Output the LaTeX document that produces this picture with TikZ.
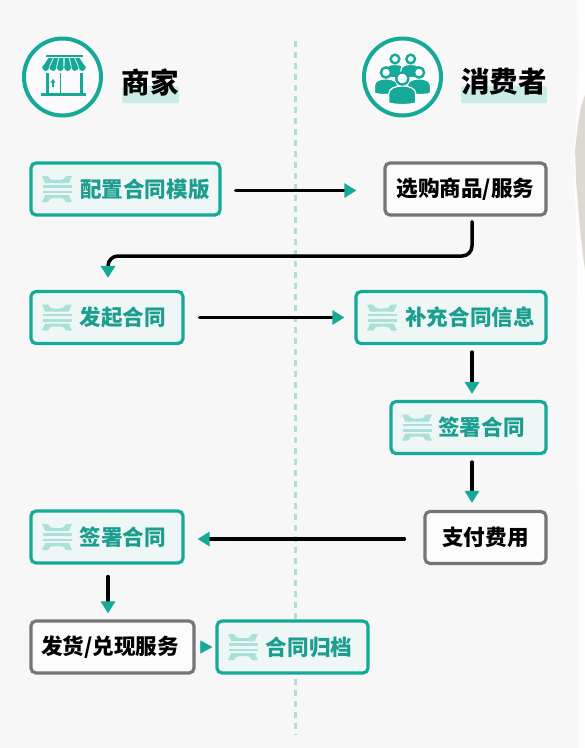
\documentclass[tikz,border=0pt]{standalone}
\usepackage{fontspec}
\setmainfont{Noto Sans CJK SC}
\usetikzlibrary{arrows.meta}
\definecolor{tealc}{HTML}{14A999}
\definecolor{tealtext}{HTML}{1B9E90}
\definecolor{lightt}{HTML}{A9E0D7}
\definecolor{hl}{HTML}{C9ECE6}
\definecolor{boxfill}{HTML}{EEF7F5}
\definecolor{greyb}{HTML}{757575}
\definecolor{paper}{HTML}{F7F7F7}
\definecolor{torn}{HTML}{DCD9D2}
\tikzset{
  x=1pt,y=-1pt,
  flowbox/.style={rounded corners=5pt,line width=3.2pt,minimum height=52pt,inner sep=0pt,font=\fontsize{21.6}{24}\selectfont\bfseries},
  contract/.style={flowbox,draw=tealc,fill=boxfill,text=tealtext},
  plainbox/.style={flowbox,draw=greyb,fill=white!60!paper,text=black,font=\fontsize{21.6}{24}\selectfont\bfseries},
  title/.style={font=\fontsize{28.5}{32}\selectfont\bfseries,text=black,inner sep=0pt},
  ring/.style={circle,draw=tealc,line width=4pt,fill=white!50!paper,minimum size=77pt,inner sep=0pt},
  flow/.style={line width=3.5pt,black,line cap=round,-{Triangle[color=tealc,length=12pt,width=14pt]}},
  tiponly/.style={line width=0.5pt,tealc,-{Triangle[color=tealc,length=12pt,width=13pt]}},
}
% contract mark, centred on the given point
\newcommand{\contractmark}[1]{%
  \begin{scope}[shift={(#1)},lightt]
    \fill (-15,-13) -- (-9,-13) .. controls (-8,-10) and (-6,-9) .. (-3,-9) -- (3,-9) .. controls (6,-9) and (8,-10) .. (9,-13) -- (15,-13) .. controls (13.5,-10) and (12.5,-8) .. (12,-6) -- (-12,-6) .. controls (-12.5,-8) and (-13.5,-10) .. (-15,-13) -- cycle;
    \fill (-15,13) -- (-9,13) .. controls (-8,10) and (-6,9) .. (-3,9) -- (3,9) .. controls (6,9) and (8,10) .. (9,13) -- (15,13) .. controls (13.5,10) and (12.5,8) .. (12,6) -- (-12,6) .. controls (-12.5,8) and (-13.5,10) .. (-15,13) -- cycle;
    \fill (-14.5,-4) rectangle (14.5,-1.5);
    \fill (-14.5,1.5) rectangle (14.5,4);
  \end{scope}}
% one person of the crowd icon
\newcommand{\crowdperson}[3]{%
  \begin{scope}[shift={(#1,#2)},scale=#3]
    \fill[tealc,draw=white,line width=1.2pt] (-13.5,24.5) -- (-13.5,15) .. controls (-13.5,10) and (-7,7.5) .. (0,7.5) .. controls (7,7.5) and (13.5,10) .. (13.5,15) -- (13.5,24.5) .. controls (6,26.5) and (-6,26.5) .. (-13.5,24.5) -- cycle;
    \filldraw[fill=white,draw=tealc,line width=2.4pt] (0,0) circle[radius=6];
  \end{scope}}
\begin{document}
\begin{tikzpicture}
\useasboundingbox (0,0) rectangle (585,748);
\fill[paper] (0,0) rectangle (585,748);
% torn paper edge on the right
\fill[white!70!paper] (577,0) -- (585,0) -- (585,748) -- (579,748) -- (578,400) -- (577,270) -- (574,160) -- (579,60) -- cycle;
\fill[torn] (585,95) -- (581,106) -- (578,125) -- (575,150) -- (576,180) -- (578,205) -- (580,228) -- (583,255) -- (585,270) -- cycle;
% centre line
\draw[lightt,line width=3pt,dash pattern=on 6pt off 5pt] (295,41) -- (295,735);

% headers
\node[ring] (shop) at (62.5,77) {};
\node[ring] (crowd) at (402.5,77) {};
\fill[hl,rounded corners=2pt] (122,86) rectangle (179,103);
\fill[hl,rounded corners=2pt] (461,86) rectangle (547,103);
\node[title] (shoptitle) at (150,82) {商家};
\node[title] (crowdtitle) at (504,82) {消费者};

% shop icon
\begin{scope}[tealc]
  \fill (45.5,54.5) rectangle (82.5,57);
  \foreach \i in {0,...,5}{
    \fill ({48+5.33*\i+0.55},58) -- ({48+5.33*(\i+1)-0.55},58) -- ({42+7.33*(\i+1)-0.5},67) -- ({42+7.33*\i+0.5},67) -- cycle;
    \fill ({42+7.33*\i},66.5) -- ({42+7.33*(\i+1)},66.5) arc[start angle=0,end angle=-180,x radius=3.665,y radius=-4.5] -- cycle;
  }
  \fill (45.5,73) rectangle (48.5,93);
  \fill (79.5,73) rectangle (82.5,93);
  \fill (60.2,73) rectangle (61.4,93);
  \fill (41,92.7) -- (86,92.7) -- (86,96) -- (41,96) -- cycle;
  \fill (53,79) -- (55.4,82.5) -- (53.9,82.5) -- (53.9,87) -- (52.1,87) -- (52.1,82.5) -- (50.6,82.5) -- cycle;
\end{scope}

% crowd icon
\crowdperson{395}{59}{0.72}
\crowdperson{410.7}{59}{0.72}
\crowdperson{386}{72.5}{0.85}
\crowdperson{419}{72.5}{0.85}
\crowdperson{402.3}{78.5}{1}

% boxes
\node[contract,minimum width=189pt] (peizhi) at (125.5,189) {\hspace*{39pt}配置合同模版};
\node[plainbox,minimum width=161pt] (xuangou) at (465.5,189) {选购商品/服务};
\node[contract,minimum width=152pt] (faqi) at (107,317.5) {\hspace*{32pt}发起合同};
\node[contract,minimum width=190pt] (buchong) at (451,317.5) {\hspace*{38pt}补充合同信息};
\node[contract,minimum width=155pt] (qianr) at (468.5,427.5) {\hspace*{26pt}签署合同};
\node[plainbox,minimum width=121pt] (zhifu) at (485.5,537.5) {支付费用};
\node[contract,minimum width=152pt] (qianl) at (107,537) {\hspace*{32pt}签署合同};
\node[plainbox,minimum width=163pt] (fahuo) at (112.5,647) {\hspace*{-5pt}发货/兑现服务};
\node[contract,minimum width=151pt] (guidang) at (292.5,647) {\hspace*{33pt}合同归档};

% contract marks
\contractmark{57,189}
\contractmark{57,317.5}
\contractmark{382,317.5}
\contractmark{417,427.5}
\contractmark{57,537}
\contractmark{243,647}

% connectors
\coordinate (turnright) at (472,256);
\coordinate (turnleft) at (108,256);
\draw[flow,shorten <=14pt,shorten >=27pt] ([yshift=-1.5pt]peizhi.east) -- ([yshift=-1.5pt]xuangou.west);
\draw[flow,rounded corners=10pt,shorten <=5pt,shorten >=12pt] ([xshift=6.5pt]xuangou.south) -- (turnright) -- (turnleft) -- ([xshift=1pt]faqi.north);
\draw[flow,shorten <=15pt,shorten >=10pt] (faqi.east) -- (buchong.west);
\draw[flow,shorten <=7pt,shorten >=6pt] ([xshift=21pt]buchong.south) -- ([xshift=3.5pt]qianr.north);
\draw[flow,shorten <=7pt,shorten >=7pt] ([xshift=3.5pt]qianr.south) -- ([xshift=-13.5pt]zhifu.north);
\draw[flow,shorten <=19pt,shorten >=13pt] ([yshift=-1.5pt]zhifu.west) -- ([yshift=-2pt]qianl.east);
\draw[flow,shorten <=12pt,shorten >=6pt] ([xshift=1pt]qianl.south) -- ([xshift=-4.5pt]fahuo.north);
\draw[tiponly,shorten <=4pt,shorten >=3pt] (fahuo.east) -- (guidang.west);
\end{tikzpicture}
\end{document}
